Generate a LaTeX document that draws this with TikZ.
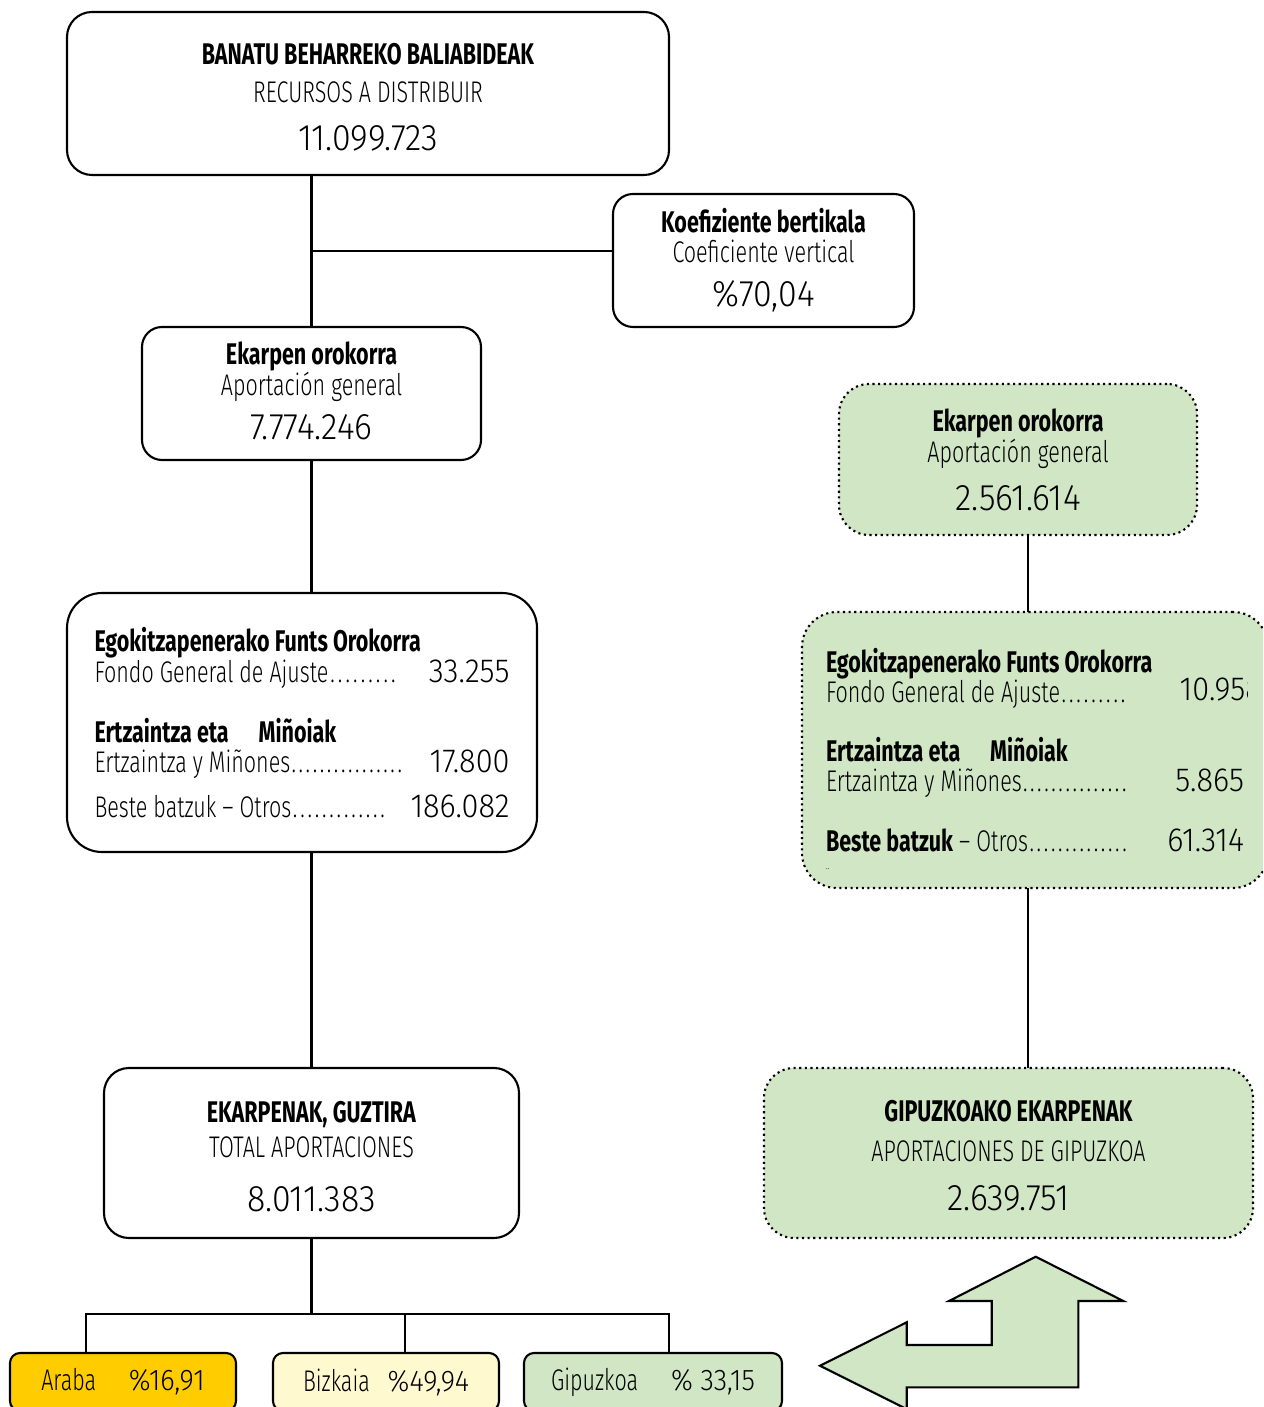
\documentclass[tikz,border=0pt]{standalone}
\usepackage{fontspec}
\setmainfont{Fira Sans}[UprightFont={* Light},BoldFont={* Bold},FakeStretch=0.72]
\newfontfamily\numfam{Fira Sans}[UprightFont={* Light},FakeStretch=0.92]
\usepackage{xcolor}
\usepackage{tikz}
\definecolor{gipgreen}{RGB}{208,230,197}
\definecolor{arabagold}{RGB}{255,204,0}
\definecolor{bizkaiacream}{RGB}{255,249,208}
\newcommand{\valfont}{\numfam\fontsize{10.5}{10}\selectfont}
\newcommand{\rowval}{\numfam\fontsize{9.5}{10}\selectfont}
\newcommand{\dotrun}[1]{\hbox to #1{\xleaders\hbox to 2pt{\hss.\hss}\hfill}}
\tikzset{
  sumbox/.style={
    draw, rounded corners=2.5mm, line width=0.6pt, align=center,
    inner sep=0pt, outer sep=0pt,
    font=\fontsize{8.5}{10}\selectfont, fill=white
  },
  listbox/.style={
    draw, rounded corners=3.5mm, line width=0.6pt, align=flush left,
    text width=4.15cm, inner sep=0pt, outer sep=0pt,
    font=\fontsize{8.5}{10}\selectfont, fill=white
  },
  gipbox/.style={fill=gipgreen, densely dotted},
  terrbox/.style={
    draw, rounded corners=1mm, line width=0.6pt,
    minimum width=2.26cm, minimum height=0.58cm,
    inner sep=0pt, outer sep=0pt, font=\fontsize{8.5}{10}\selectfont
  },
  treeline/.style={line width=0.6pt},
}
\begin{document}
\begin{tikzpicture}
  \useasboundingbox (0,0) rectangle (12.63,-14.07);
  \clip (0,0) rectangle (12.63,-14.07);

  \node[sumbox, minimum width=6.02cm, minimum height=1.63cm] (recursos) at (3.68,-0.935) {\rule{0pt}{8.2pt}\textbf{BANATU BEHARREKO BALIABIDEAK}\\[0.8pt]RECURSOS A DISTRIBUIR\\[3.6pt]{\valfont 11.099.723}};
  \node[sumbox, rounded corners=2mm, minimum width=3.01cm, minimum height=1.33cm] (koef) at (7.635,-2.605) {\textbf{Koefiziente bertikala}\\[-1.5pt]Coeficiente vertical\\[2.5pt]{\valfont \%70,04}};
  \node[sumbox, rounded corners=2mm, minimum width=3.39cm, minimum height=1.33cm] (ekarL) at (3.115,-3.935) {\textbf{Ekarpen orokorra}\\[-1pt]Aportación general\\[2.5pt]{\valfont 7.774.246}\rule[-1.7pt]{0pt}{0pt}};
  \node[listbox, minimum width=4.70cm, minimum height=2.59cm] (fondosL) at (3.02,-7.225) {\textbf{Egokitzapenerako Funts Orokorra}\\[-1.2pt]
    Fondo General de Ajuste\dotrun{6.9mm}\hfill{\rowval 33.255}\\[7pt]
    \textbf{Ertzaintza eta\quad Miñoiak}\\[-1.5pt]
    Ertzaintza y Miñones\dotrun{11.3mm}\hfill{\rowval 17.800}\\[2.8pt]
    Beste batzuk -- Otros\dotrun{9.5mm}\hfill{\rowval 186.082}};
  \node[sumbox, minimum width=4.15cm, minimum height=1.70cm] (totalL) at (3.115,-11.53) {\rule{0pt}{8.2pt}\textbf{EKARPENAK, GUZTIRA}\\TOTAL APORTACIONES\\[5.4pt]{\valfont 8.011.383}};

  \node[terrbox, fill=arabagold] (araba) at (1.23,-13.82) {Araba\hspace{1.1em}{\numfam\%16,91}};
  \node[terrbox, fill=bizkaiacream] (bizkaia) at (3.86,-13.82) {Bizkaia\hspace{0.6em}{\numfam\%49,94}};
  \node[terrbox, fill=gipgreen, minimum width=2.58cm] (gipuzkoa) at (6.53,-13.82) {Gipuzkoa\hspace{1.1em}{\numfam\% 33,15}};

  \node[sumbox, gipbox, rounded corners=3mm, minimum width=3.58cm, minimum height=1.51cm] (ekarR) at (10.18,-4.595) {\textbf{Ekarpen orokorra}\\[-1.2pt]Aportación general\\[3.7pt]{\valfont 2.561.614}};
  \node[listbox, gipbox, text width=4.18cm, minimum width=4.66cm, minimum height=2.76cm] (fondosR) at (10.35,-7.50) {\textbf{Egokitzapenerako Funts Orokorra}\\[-1.5pt]
    Fondo General de Ajuste\dotrun{6.7mm}\\[7pt]
    \textbf{Ertzaintza eta\quad Miñoiak}\\[-1.5pt]
    Ertzaintza y Miñones\dotrun{10.6mm}\hfill{\rowval 5.865}\\[7pt]
    \smash{\rlap{\raisebox{-5pt}{\fontsize{3}{3}\selectfont ..}}}\textbf{Beste batzuk} -- Otros\dotrun{10mm}\hfill{\rowval 61.314}};
  \begin{scope}
    \clip (11.5,-6.55) rectangle (12.475,-7.25);
    \node[anchor=west, inner sep=0pt, font=\rowval] (fgaR) at (11.79,-6.90) {10.958};
  \end{scope}
  \node[sumbox, gipbox, rounded corners=3mm, minimum width=4.89cm, minimum height=1.70cm] (totalR) at (10.085,-11.53) {\rule{0pt}{7.8pt}\textbf{GIPUZKOAKO EKARPENAK}\\[1.4pt]APORTACIONES DE GIPUZKOA\\[3.9pt]{\valfont 2.639.751}};

  \draw[treeline] (ekarL.north |- recursos.south) -- (ekarL.north);
  \draw[treeline] ([yshift=0.95mm]ekarL.north |- koef.west) -- ([yshift=0.95mm]koef.west);
  \draw[treeline] (ekarL.south) -- (ekarL.south |- fondosL.north);
  \draw[treeline] (totalL.north |- fondosL.south) -- (totalL.north);
  \coordinate (busL) at (0.86,-13.14);
  \coordinate (busR) at (6.69,-13.14);
  \draw[treeline] (totalL.south) -- (totalL.south |- busL);
  \draw[treeline] (busL |- araba.north) -- (busL) -- (busR) -- (busR |- gipuzkoa.north);
  \draw[treeline] ([xshift=1.9mm]bizkaia.north) -- ([xshift=1.9mm]bizkaia.north |- busL);
  \draw[treeline] ([xshift=1mm]ekarR.south) -- ([xshift=1mm]ekarR.south |- fondosR.north);
  \draw[treeline] ([xshift=1.95mm]totalR.north |- fondosR.south) -- ([xshift=1.95mm]totalR.north);

  \draw[treeline, fill=gipgreen] (10.357,-12.567) -- (11.233,-13.01) -- (10.783,-13.01) -- (10.783,-13.873)
    -- (9.067,-13.873) -- (9.067,-14.091) -- (8.20,-13.657) -- (9.067,-13.223) -- (9.067,-13.45)
    -- (9.917,-13.45) -- (9.917,-13.01) -- (9.49,-13.01) -- cycle;
\end{tikzpicture}
\end{document}
